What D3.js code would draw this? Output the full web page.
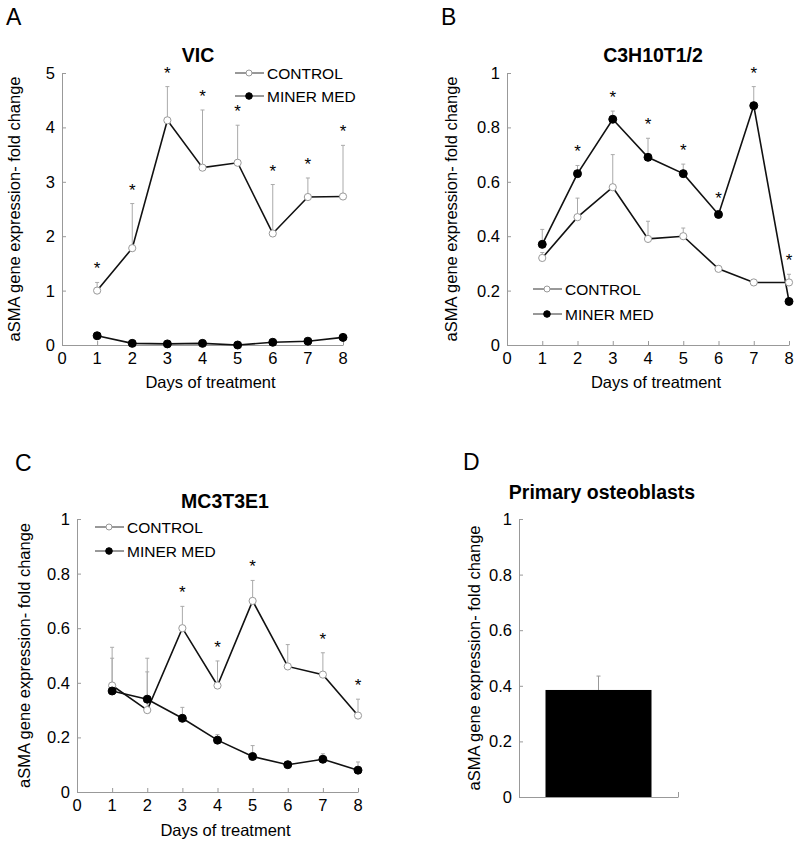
<!DOCTYPE html>
<html>
<head>
<meta charset="utf-8">
<script src="https://cdn.jsdelivr.net/npm/d3@7"></script>
<style>
  body { margin: 0; background: #fff; }
  svg { font-family: "Liberation Sans", Arial, sans-serif; }
  .axis path, .axis line { stroke: #999; }
</style>
</head>
<body>
<div id="chart"></div>
<script>
// ---- data ----
var days = [1, 2, 3, 4, 5, 6, 7, 8];

var vicControl    = [1.00, 1.78, 4.13, 3.26, 3.35, 2.05, 2.72, 2.73];
var vicControlErr = [0.15, 0.82, 0.62, 1.06, 0.69, 0.90, 0.35, 0.94];
var vicMiner      = [0.17, 0.03, 0.02, 0.03, 0.00, 0.05, 0.07, 0.14];
var vicMinerErr   = [0.03, 0.02, 0.01, 0.02, 0.01, 0.02, 0.02, 0.05];
var vicStars      = [1, 2, 3, 4, 5, 6, 7, 8];
var vicTicks      = [0, 1, 2, 3, 4, 5];

var c3hControl    = [0.32, 0.47, 0.58, 0.39, 0.40, 0.28, 0.23, 0.23];
var c3hControlErr = [0.02, 0.07, 0.12, 0.065, 0.03, 0.01, 0.00, 0.03];
var c3hMiner      = [0.37, 0.63, 0.83, 0.69, 0.63, 0.48, 0.88, 0.16];
var c3hMinerErr   = [0.055, 0.03, 0.03, 0.07, 0.035, 0.01, 0.07, 0.01];
var c3hStars      = [2, 3, 4, 5, 6, 7, 8];

var mc3Control    = [0.39, 0.30, 0.60, 0.39, 0.70, 0.46, 0.43, 0.28];
var mc3ControlErr = [0.14, 0.19, 0.08, 0.09, 0.075, 0.08, 0.08, 0.06];
var mc3Miner      = [0.37, 0.34, 0.27, 0.19, 0.13, 0.10, 0.12, 0.08];
var mc3MinerErr   = [0.12, 0.10, 0.04, 0.02, 0.04, 0.00, 0.02, 0.03];
var mc3Stars      = [3, 4, 5, 7, 8];

var fracTicks = [0, 0.2, 0.4, 0.6, 0.8, 1];
var xTicks = [0, 1, 2, 3, 4, 5, 6, 7, 8];

var osteoCats  = ["Primary osteoblasts"];
var osteoValue = [0.385];
var osteoErr   = [0.05];

var seriesNames = ["CONTROL", "MINER MED"];
var yLabel = "aSMA gene expression- fold change";
var xLabel = "Days of treatment";

var svg = d3.select("#chart").append("svg")
  .attr("width", 800)
  .attr("height", 847);

function drawLinePanel(p) {
  var x = d3.scaleLinear().domain([0, 8]).range([p.x0, p.x1]);
  var y = d3.scaleLinear().domain([0, p.ymax]).range([p.y0, p.y1]);
  var g = svg.append("g");

  g.append("g").attr("class", "axis")
    .attr("transform", "translate(0," + p.y0 + ")")
    .call(d3.axisTop(x).tickValues(xTicks).tickSize(4).tickSizeOuter(0).tickFormat(""));
  g.append("g").attr("class", "axis")
    .attr("transform", "translate(" + p.x0 + ",0)")
    .call(d3.axisRight(y).tickValues(p.ticks).tickSize(4).tickSizeOuter(0).tickFormat(""));

  // tick labels
  g.selectAll(".xl").data(xTicks).enter().append("text")
    .attr("x", function(d) { return x(d); })
    .attr("y", p.y0 + 19)
    .attr("text-anchor", "middle")
    .style("font-size", "16.5px")
    .text(function(d) { return d; });
  g.selectAll(".yl").data(p.ticks).enter().append("text")
    .attr("x", p.x0 - 7)
    .attr("y", function(d) { return y(d) + 6; })
    .attr("text-anchor", "end")
    .style("font-size", "16.5px")
    .text(function(d) { return d; });

  g.append("text")
    .attr("x", (p.x0 + p.x1) / 2 + 8)
    .attr("y", p.y0 + p.xlabDy)
    .attr("text-anchor", "middle")
    .style("font-size", "16.5px")
    .text(xLabel);
  g.append("text")
    .attr("transform", "translate(" + p.ylabX + "," + (p.y0 + p.y1) / 2 + ") rotate(-90)")
    .attr("text-anchor", "middle")
    .style("font-size", "16.5px")
    .text(yLabel);

  g.append("text")
    .attr("x", p.titleX).attr("y", p.titleY)
    .attr("text-anchor", "middle")
    .style("font-size", "19.5px").style("font-weight", "bold")
    .text(p.title);
  g.append("text")
    .attr("x", p.letterX).attr("y", p.letterY)
    .style("font-size", "23px")
    .text(p.letter);

  var series = [
    { vals: p.control, err: p.controlErr, open: true },
    { vals: p.miner, err: p.minerErr, open: false }
  ];

  // error bars (upper only)
  series.forEach(function(s) {
    var eb = g.selectAll(null).data(days).enter().append("g");
    eb.append("line")
      .attr("x1", function(d) { return x(d); })
      .attr("x2", function(d) { return x(d); })
      .attr("y1", function(d, i) { return y(s.vals[i]); })
      .attr("y2", function(d, i) { return y(s.vals[i] + s.err[i]); })
      .attr("stroke", "#aaa");
    eb.append("line")
      .attr("x1", function(d) { return x(d) - 2; })
      .attr("x2", function(d) { return x(d) + 2; })
      .attr("y1", function(d, i) { return y(s.vals[i] + s.err[i]); })
      .attr("y2", function(d, i) { return y(s.vals[i] + s.err[i]); })
      .attr("stroke", "#aaa");
  });

  var line = d3.line().x(function(d) { return x(d[0]); }).y(function(d) { return y(d[1]); });
  series.forEach(function(s) {
    g.append("path")
      .datum(d3.zip(days, s.vals))
      .attr("d", line)
      .attr("fill", "none")
      .attr("stroke", "#111")
      .attr("stroke-width", 1.6);
  });
  series.forEach(function(s) {
    g.selectAll(null).data(d3.zip(days, s.vals)).enter().append("circle")
      .attr("cx", function(d) { return x(d[0]); })
      .attr("cy", function(d) { return y(d[1]); })
      .attr("r", s.open ? 3.6 : 4)
      .attr("fill", s.open ? "#fff" : "#000")
      .attr("stroke", s.open ? "#999" : "#000")
      .attr("stroke-width", 1);
  });

  // significance stars
  g.selectAll(null).data(p.stars).enter().append("text")
    .attr("x", function(d) { return x(d); })
    .attr("y", function(d) {
      var i = days.indexOf(d);
      var top = Math.max(p.control[i] + p.controlErr[i], p.miner[i] + p.minerErr[i]);
      return y(top) - 8;
    })
    .attr("text-anchor", "middle")
    .style("font-size", "17px")
    .text("*");

  // legend
  seriesNames.forEach(function(name, k) {
    var ly = p.legY + k * p.legGap;
    g.append("line")
      .attr("x1", p.legX).attr("x2", p.legX + 29)
      .attr("y1", ly).attr("y2", ly)
      .attr("stroke", "#333").attr("stroke-width", 1);
    g.append("circle")
      .attr("cx", p.legX + 14).attr("cy", ly)
      .attr("r", k === 0 ? 3 : 3.3)
      .attr("fill", k === 0 ? "#fff" : "#000")
      .attr("stroke", k === 0 ? "#999" : "#000");
    g.append("text")
      .attr("x", p.legX + 32).attr("y", ly + 6)
      .style("font-size", "15.5px")
      .text(name);
  });
}

drawLinePanel({
  x0: 62, x1: 343, y0: 345, y1: 73, ymax: 5, ticks: vicTicks,
  control: vicControl, controlErr: vicControlErr, miner: vicMiner, minerErr: vicMinerErr,
  stars: vicStars, title: "VIC", titleX: 198, titleY: 62, letter: "A", letterX: 6, letterY: 25,
  ylabX: 20, xlabDy: 43, legX: 235, legY: 73, legGap: 23
});
drawLinePanel({
  x0: 507, x1: 789, y0: 345, y1: 73, ymax: 1, ticks: fracTicks,
  control: c3hControl, controlErr: c3hControlErr, miner: c3hMiner, minerErr: c3hMinerErr,
  stars: c3hStars, title: "C3H10T1/2", titleX: 653, titleY: 62, letter: "B", letterX: 441, letterY: 25,
  ylabX: 457, xlabDy: 43, legX: 533, legY: 289, legGap: 25
});
drawLinePanel({
  x0: 77, x1: 358, y0: 792, y1: 519, ymax: 1, ticks: fracTicks,
  control: mc3Control, controlErr: mc3ControlErr, miner: mc3Miner, minerErr: mc3MinerErr,
  stars: mc3Stars, title: "MC3T3E1", titleX: 225, titleY: 508, letter: "C", letterX: 15, letterY: 471,
  ylabX: 30, xlabDy: 44, legX: 95, legY: 527, legGap: 24
});

// ---- panel D: bar ----
(function() {
  var x0 = 519, x1 = 678, y0 = 797, y1 = 519;
  var x = d3.scaleBand().domain(osteoCats).range([x0, x1]).paddingInner(0).paddingOuter(0.25);
  var y = d3.scaleLinear().domain([0, 1]).range([y0, y1]);
  var g = svg.append("g");

  g.append("g").attr("class", "axis")
    .attr("transform", "translate(0," + y0 + ")")
    .call(d3.axisTop(d3.scaleLinear().domain([0, 1]).range([x0, x1])).tickValues([1]).tickSize(5).tickSizeOuter(0).tickFormat(""));
  g.append("g").attr("class", "axis")
    .attr("transform", "translate(" + x0 + ",0)")
    .call(d3.axisRight(y).tickValues(fracTicks).tickSize(4).tickSizeOuter(0).tickFormat(""));
  g.selectAll(".yl").data(fracTicks).enter().append("text")
    .attr("x", x0 - 7)
    .attr("y", function(d) { return y(d) + 6; })
    .attr("text-anchor", "end")
    .style("font-size", "16.5px")
    .text(function(d) { return d; });

  g.selectAll(null).data(osteoCats).enter().append("line")
    .attr("x1", function(d) { return x(d) + x.bandwidth() / 2; })
    .attr("x2", function(d) { return x(d) + x.bandwidth() / 2; })
    .attr("y1", function(d, i) { return y(osteoValue[i]); })
    .attr("y2", function(d, i) { return y(osteoValue[i] + osteoErr[i]); })
    .attr("stroke", "#999");
  g.selectAll(null).data(osteoCats).enter().append("line")
    .attr("x1", function(d) { return x(d) + x.bandwidth() / 2 - 2; })
    .attr("x2", function(d) { return x(d) + x.bandwidth() / 2 + 2; })
    .attr("y1", function(d, i) { return y(osteoValue[i] + osteoErr[i]); })
    .attr("y2", function(d, i) { return y(osteoValue[i] + osteoErr[i]); })
    .attr("stroke", "#999");
  g.selectAll(null).data(osteoCats).enter().append("rect")
    .attr("x", function(d) { return x(d); })
    .attr("y", function(d, i) { return y(osteoValue[i]); })
    .attr("width", x.bandwidth())
    .attr("height", function(d, i) { return y0 - y(osteoValue[i]); })
    .attr("fill", "#000");

  g.append("text")
    .attr("transform", "translate(480," + (y0 + y1) / 2 + ") rotate(-90)")
    .attr("text-anchor", "middle")
    .style("font-size", "16.5px")
    .text(yLabel);
  g.append("text")
    .attr("x", 602).attr("y", 499)
    .attr("text-anchor", "middle")
    .style("font-size", "19.5px").style("font-weight", "bold")
    .text(osteoCats[0]);
  g.append("text")
    .attr("x", 463).attr("y", 470)
    .style("font-size", "23px")
    .text("D");
})();
</script>
</body>
</html>
